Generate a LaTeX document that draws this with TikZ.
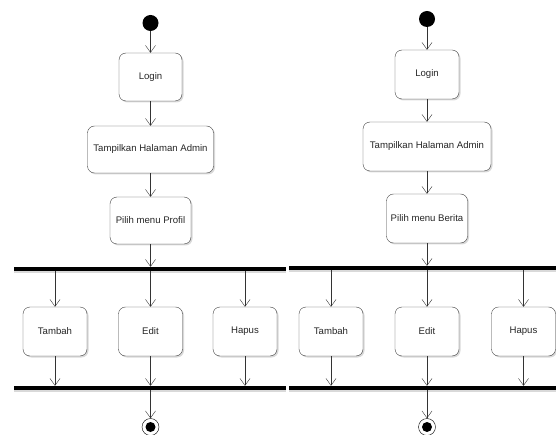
\documentclass[tikz,border=0pt]{standalone}
\usepackage{fontspec}
\setsansfont{Liberation Sans}
\usetikzlibrary{arrows.meta, shadows}

\begin{document}
\begin{tikzpicture}[
    x=1pt, y=-1pt,
    act/.style={rectangle, draw=black!75, rounded corners=7pt, fill=white, thin,
        font=\sffamily\fontsize{9.6}{11}\selectfont, text=black!85, inner sep=1pt,
        drop shadow={shadow xshift=1.5pt, shadow yshift=-1.5pt, opacity=1, fill=black!15}},
    small/.style={act, minimum width=64pt, minimum height=49pt},
    bar/.style={rectangle, fill=black, inner sep=0pt, minimum height=4pt,
        drop shadow={shadow xshift=0pt, shadow yshift=-2pt, opacity=1, fill=black!15}},
    startdot/.style={circle, fill=black, inner sep=0pt, minimum size=16pt},
    endring/.style={circle, draw=black, thin, fill=white, inner sep=0pt, minimum size=17pt},
    enddot/.style={circle, fill=black, inner sep=0pt, minimum size=10pt},
    arrow/.style={-{Straight Barb[length=7pt, width=10pt]}, draw=black!80, thin}
]

    \useasboundingbox (0,0) rectangle (556,435);

    % --- Left diagram: Profil ---
    \node[startdot] (start1) at (150.5,23) {};
    \node[small, minimum width=63pt, minimum height=48pt] (login1) at (150.5,77) {Login};
    \node[act, minimum width=126pt, minimum height=47pt] (admin1) at (150.5,149.5) {Tampilkan Halaman Admin};
    \node[act, minimum width=81pt, minimum height=47pt] (menu1) at (150.5,220.5) {Pilih menu Profil};
    \node[bar, minimum width=272pt] (fork1) at (150,269) {};
    \node[small] (tambah1) at (55,331.5) {Tambah};
    \node[small] (edit1) at (150.5,331.5) {Edit};
    \node[small] (hapus1) at (245,331.5) {Hapus};
    \node[bar, minimum width=272pt] (join1) at (150,388) {};
    \node[endring] (end1) at (150.5,427) {};
    \node[enddot] (end1in) at (end1) {};

    \draw[arrow] (start1) -- (login1);
    \draw[arrow] (login1) -- (admin1);
    \draw[arrow] (admin1) -- (menu1);
    \draw[arrow] (menu1) -- (menu1 |- fork1.north);
    \foreach \n in {tambah1, edit1, hapus1} {
        \draw[arrow] (\n |- fork1.south) -- (\n.north);
        \draw[arrow] (\n.south) -- (\n |- join1.north);
    }
    \draw[arrow] (end1 |- join1.south) -- (end1);

    % --- Right diagram: Berita ---
    \node[startdot] (start2) at (427,19) {};
    \node[small] (login2) at (427,74.5) {Login};
    \node[act, minimum width=128pt, minimum height=49pt] (admin2) at (427,146.5) {Tampilkan Halaman Admin};
    \node[act, minimum width=81pt, minimum height=49pt] (menu2) at (427,218.5) {Pilih menu Berita};
    \node[bar, minimum width=268pt] (fork2) at (423,268) {};
    \node[small] (tambah2) at (331,331.5) {Tambah};
    \node[small] (edit2) at (427,331.5) {Edit};
    \node[small] (hapus2) at (523.5,331.5) {Hapus};
    \node[bar, minimum width=268pt] (join2) at (423,388) {};
    \node[endring] (end2) at (427,427) {};
    \node[enddot] (end2in) at (end2) {};

    \draw[arrow] (start2) -- (login2);
    \draw[arrow] (login2) -- (admin2);
    \draw[arrow] (admin2) -- (menu2);
    \draw[arrow] (menu2) -- (menu2 |- fork2.north);
    \foreach \n in {tambah2, edit2, hapus2} {
        \draw[arrow] (\n |- fork2.south) -- (\n.north);
        \draw[arrow] (\n.south) -- (\n |- join2.north);
    }
    \draw[arrow] (end2 |- join2.south) -- (end2);

\end{tikzpicture}
\end{document}
